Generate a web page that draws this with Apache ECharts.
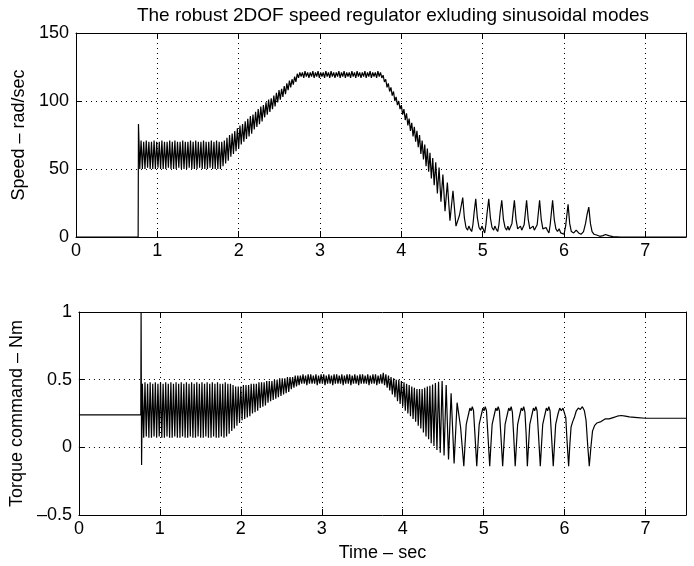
<!DOCTYPE html>
<html>
<head>
<meta charset="utf-8">
<script src="https://cdn.jsdelivr.net/npm/echarts@6/dist/echarts.min.js"></script>
<style>
  html, body { margin: 0; padding: 0; background: #fff; }
  #main { width: 694px; height: 566px; }
</style>
</head>
<body>
<div id="main"></div>
<script>
// start of the run: motor at rest, then the step at ~0.77 s
var startT = [0, 0.764, 0.768];
var speedStart = [0, 0, 83];
var torqueStartT = [0, 0.764, 0.768, 0.774];
var torqueStart = [0.24, 0.24, 1.0, -0.13];

// dense oscillation, one value per half period, sampled every denseDt from denseT0
var denseT0 = 0.784;
var denseDt = 0.016;
var speedDense = [
  // hold at ~60 rad/s
  50,71,50,70,50,71,51,70,50,70, 50,71,50,70,51,70,50,71,50,70,
  50,70,51,71,50,70,50,71,50,70, 51,70,50,71,50,70,50,70,51,71,
  50,70,50,71,50,70,51,70,50,71, 50,70,50,70,51,71,50,70,50,71,
  50,70,50,
  // ramp up
  70,52,71,54,73,56,75,59,76,61,78,63,80,65,82,68,83,70,85,72,87,74,89,76,90,79,
  92,81,94,83,96,85,97,88,99,90,101,92,102,94,104,96,106,99,108,101,109,103,
  111,105,113,108,115,110,116,112,118,114,120,117,121,
  // plateau at ~120 rad/s
  118,121,117,122,118,121,117,121,118,122, 117,121,118,122,117,121,118,121,117,122,
  118,121,117,122,118,121,117,121,118,122, 117,121,118,122,117,121,118,121,117,122,
  118,121,117,122,118,121,117,121,118,122, 117,121,118,122,117,121,118,121,117,122,
  118,121,
  // ramp down
  117,119,114,116,110,113,107,110,104,107,100,103,97,100,94,97,90,94,86,91,
  82,87,78,84,74,81,70,78,66,75,61,71,57,68,52
];
var torqueDense = [
  .47,.07,.48,.08,.47,.07,.48,.07,.47,.08, .48,.07,.47,.08,.48,.07,.47,.07,.48,.08,
  .47,.07,.48,.07,.47,.08,.48,.07,.47,.07, .48,.08,.47,.07,.48,.07,.47,.08,.48,.07,
  .47,.07,.48,.08,.47,.07,.48,.07,.47,.08, .48,.07,.47,.07,.48,.08,.47,.07,.48,.07,
  .47,.08,.47,
  .07,.48,.08,.47,.10,.47,.12,.46,.14,.45,.16,.45,.18,.45,.20,.46,.21,.46,.22,.46,
  .23,.47,.25,.47,.26,.47,.27,.48,.29,.48,.30,.48,.31,.49,.33,.49,.34,.49,.35,.50,
  .36,.50,.37,.51,.38,.51,.39,.51,.40,.52,.41,.52,.43,.52,.44,.53,.45,.53,.46,.53,.47,
  .54,.47,.53,.46,.54,.47,.54,.47,.53,.47, .54,.46,.53,.47,.54,.47,.54,.46,.53,.47,
  .54,.47,.53,.46,.54,.47,.54,.47,.53,.47, .54,.46,.53,.47,.54,.47,.54,.46,.53,.47,
  .54,.47,.53,.46,.54,.47,.54,.47,.53,.47, .54,.46,.53,.47,.54,.47,.54,.46,.53,.47,
  .54,.47,
  .55,.46,.54,.44,.53,.42,.52,.39,.51,.37,.50,.34,.50,.32,.49,.30,.48,.27,.47,.25,
  .46,.23,.45,.21,.44,.19,.43,.16,.43,.14,.43,.11,.44,.08,.45
];

// end of the ramp down, oscillation slows with speed
var descentT = [4.320,4.336,4.352,4.369,4.386,4.404,4.423,4.443,4.464,4.487,4.511,4.537,4.566,4.598,4.635,4.672];
var speedDescent = [65,48,62,43,58,38,55,32,51,26,46,19,40,12,34,8];
var torqueDescent = [0.06,0.455,0.03,0.465,0.01,0.475,-0.02,0.485,-0.04,0.49,-0.06,0.46,-0.09,0.40,-0.12,0.33];

// low speed limit cycle and stop
var speedTailT = [4.715,
  4.755,4.775,4.795,4.815,4.83,4.845,4.865,4.88,4.895,
  4.915,4.935,4.955,4.975,4.99,5.005,5.025,5.04,5.055,
  5.075,5.095,5.115,5.135,5.15,5.165,5.185,5.20,5.215,
  5.235,5.255,5.275,5.295,5.31,5.325,5.345,5.36,5.375,
  5.39,5.41,5.43,5.45,5.465,5.48,5.495,5.51,5.525,
  5.54,5.56,5.58,5.60,5.62,5.635,5.655,5.67,5.685,
  5.70,5.72,5.74,5.76,5.78,5.795,5.815,5.83,5.845,
  5.86,5.88,5.90,5.92,5.94,5.96,5.98,6.00,6.02,6.035,
  6.05,6.07,6.09,6.12,6.15,6.18,6.21,6.24,6.265,6.285,
  6.305,6.325,6.345,6.37,6.40,6.44,6.48,6.51,6.55,6.60,6.70,7.5];
var speedTail = [16,
  29,14,7,5,8,6,4,9,18,
  28,14,7,5,8,6,3,9,18,
  28,14,7,5,8,6,4,9,18,
  27,13,7,5,8,5,4,10,19,
  27,13,6,5,8,5,4,9,18,
  27,13,6,5,8,5,4,9,18,
  27,13,6,5,7,5,3,9,18,
  27,13,6,4,6,3,4,2,8,16,
  24,10,4,3,5,3,2,4,10,17,
  22,10,4,2,1.5,0.5,1,1.8,1,0.3,0,0];

var torqueTailT = [4.715,
  4.755,4.77,4.785,4.80,4.815,4.83,4.845,4.86,4.875,4.89,
  4.915,4.93,4.945,4.96,4.975,4.99,5.005,5.02,5.035,5.05,
  5.075,5.09,5.105,5.12,5.135,5.15,5.165,5.18,5.195,5.21,
  5.235,5.25,5.265,5.28,5.295,5.31,5.325,5.34,5.355,5.37,
  5.39,5.405,5.42,5.435,5.45,5.465,5.48,5.495,5.51,5.525,
  5.54,5.555,5.57,5.585,5.60,5.615,5.63,5.645,5.66,5.675,
  5.70,5.715,5.73,5.745,5.76,5.775,5.79,5.805,5.82,5.835,
  5.86,5.875,5.89,5.905,5.92,5.94,5.96,5.98,6.00,6.015,6.03,
  6.05,6.065,6.08,6.10,6.12,6.145,6.17,6.195,6.22,6.245,6.265,6.285,
  6.305,6.325,6.345,6.37,6.40,6.45,6.50,6.55,6.60,6.65,6.70,6.75,6.80,6.90,7.0,7.5];
var torqueTail = [0.15,
  -0.14,0.02,0.17,0.21,0.25,0.29,0.27,0.30,0.27,0.12,
  -0.14,0.02,0.17,0.21,0.25,0.29,0.27,0.30,0.27,0.12,
  -0.14,0.02,0.17,0.21,0.25,0.29,0.27,0.30,0.27,0.12,
  -0.14,0.02,0.17,0.21,0.25,0.29,0.27,0.30,0.26,0.10,
  -0.14,0.02,0.17,0.21,0.25,0.29,0.27,0.30,0.26,0.10,
  -0.14,0.02,0.17,0.21,0.25,0.29,0.27,0.30,0.27,0.12,
  -0.14,0.02,0.17,0.21,0.25,0.29,0.27,0.30,0.27,0.12,
  -0.14,0.02,0.17,0.21,0.25,0.29,0.27,0.29,0.28,0.22,0.05,
  -0.14,0.02,0.15,0.19,0.22,0.27,0.29,0.28,0.30,0.27,0.20,0.02,
  -0.14,0.0,0.12,0.16,0.18,0.19,0.21,0.21,0.22,0.23,0.235,0.23,0.225,0.22,0.215,0.215];

var xTicks = [0, 7.5, 1];
var speedTicks = [0, 150, 50];
var torqueTicks = [-0.5, 1, 0.5];

function pairs(ts, vs) {
  return vs.map(function (v, i) { return [ts[i], v]; });
}
function denseTimes(n) {
  var out = [];
  for (var i = 0; i < n; i++) out.push(+(denseT0 + i * denseDt).toFixed(3));
  return out;
}

var speedData = [].concat(
  pairs(startT, speedStart),
  pairs(denseTimes(speedDense.length), speedDense),
  pairs(descentT, speedDescent),
  pairs(speedTailT, speedTail)
);
var torqueData = [].concat(
  pairs(torqueStartT, torqueStart),
  pairs(denseTimes(torqueDense.length), torqueDense),
  pairs(descentT, torqueDescent),
  pairs(torqueTailT, torqueTail)
);

var FONT = 'Liberation Sans';
var txt = { fontFamily: FONT, fontSize: 18, color: '#000' };
var dotted = { color: '#000', width: 1, type: [1, 4] };

function fmt(v) {
  return v < 0 ? '\u2013' + String(-v) : String(v);
}

function xAx(grid, pos, labels, name) {
  return {
    type: 'value', gridIndex: grid, position: pos,
    min: xTicks[0], max: xTicks[1], interval: xTicks[2],
    name: name || '', nameLocation: 'middle', nameGap: 29, nameTextStyle: txt,
    axisLine: { show: true, onZero: false, lineStyle: { color: '#000', width: 1 } },
    axisTick: { show: true, inside: true, length: 6, lineStyle: { color: '#000' } },
    axisLabel: { show: labels, showMaxLabel: false, margin: 5, formatter: fmt, fontFamily: FONT, fontSize: 18, color: '#000' },
    splitLine: { show: labels, lineStyle: dotted }
  };
}
function yAx(grid, pos, ticks, labels, name) {
  return {
    type: 'value', gridIndex: grid, position: pos,
    min: ticks[0], max: ticks[1], interval: ticks[2],
    name: name || '', nameLocation: 'middle', nameGap: 44, nameTextStyle: txt,
    axisLine: { show: true, onZero: false, lineStyle: { color: '#000', width: 1 } },
    axisTick: { show: true, inside: true, length: 6, lineStyle: { color: '#000' } },
    axisLabel: { show: labels, margin: 7, formatter: fmt, fontFamily: FONT, fontSize: 18, color: '#000' },
    splitLine: { show: labels, lineStyle: dotted }
  };
}

var chart = echarts.init(document.getElementById('main'), null, { renderer: 'canvas' });
chart.setOption({
  animation: false,
  backgroundColor: '#fff',
  title: {
    text: 'The robust 2DOF speed regulator exluding sinusoidal modes',
    left: 388, top: 1, textAlign: 'center',
    textStyle: { fontFamily: FONT, fontSize: 19, fontWeight: 'normal', color: '#000' }
  },
  grid: [
    { left: 76, top: 33, width: 610, height: 204, show: false },
    { left: 76, top: 312, width: 610, height: 203, show: false }
  ],
  xAxis: [
    xAx(0, 'bottom', true),
    xAx(0, 'top', false),
    xAx(1, 'bottom', true, 'Time \u2013 sec'),
    xAx(1, 'top', false)
  ],
  yAxis: [
    yAx(0, 'left', speedTicks, true, 'Speed \u2013 rad/sec'),
    yAx(0, 'right', speedTicks, false),
    yAx(1, 'left', torqueTicks, true, 'Torque command \u2013 Nm'),
    yAx(1, 'right', torqueTicks, false)
  ],
  series: [
    {
      type: 'line', xAxisIndex: 0, yAxisIndex: 0, data: speedData,
      showSymbol: false, symbol: 'none', silent: true,
      lineStyle: { color: '#000', width: 1.2 }
    },
    {
      type: 'line', xAxisIndex: 2, yAxisIndex: 2, data: torqueData,
      showSymbol: false, symbol: 'none', silent: true,
      lineStyle: { color: '#000', width: 1.2 }
    }
  ]
});
</script>
</body>
</html>
